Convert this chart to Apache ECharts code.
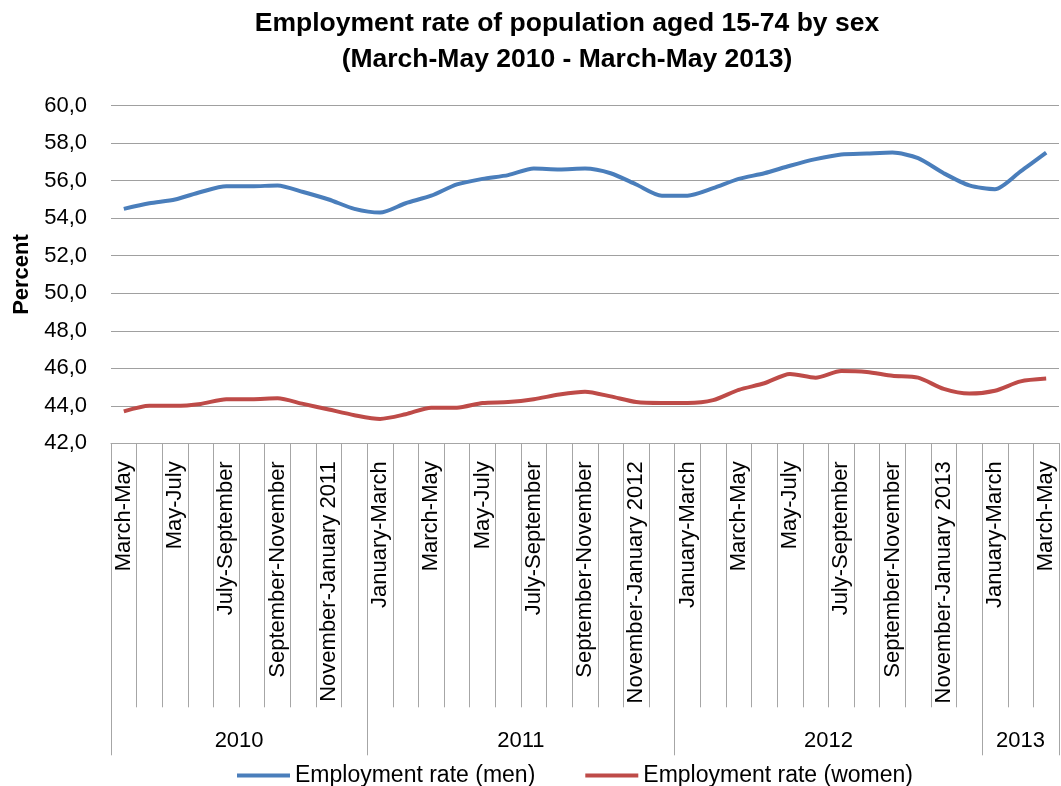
<!DOCTYPE html>
<html>
<head>
<meta charset="utf-8">
<script src="https://cdn.jsdelivr.net/npm/echarts@6/dist/echarts.min.js"></script>
<style>
html,body{margin:0;padding:0;background:#fff;}
#chart{width:1061px;height:786px;}
</style>
</head>
<body>
<div id="chart"></div>
<script>
// Categories: rolling three-month periods, March-May 2010 .. March-May 2013
const categories = [
  'March-May','April-June','May-July','June-August','July-September','August-October',
  'September-November','October-December','November-January 2011','December-February',
  'January-March','February-April','March-May','April-June','May-July','June-August',
  'July-September','August-October','September-November','October-December','November-January 2012','December-February',
  'January-March','February-April','March-May','April-June','May-July','June-August',
  'July-September','August-October','September-November','October-December','November-January 2013','December-February',
  'January-March','February-April','March-May'
];
const years = ['2010', '2011', '2012', '2013'];
const yearSizes = [10, 12, 12, 3];

const men = [54.5, 54.8, 55.0, 55.4, 55.7, 55.7, 55.75, 55.4, 55.0, 54.5,
  54.3, 54.8, 55.2, 55.8, 56.1, 56.3, 56.65, 56.6, 56.65, 56.4,
  55.8, 55.2, 55.2, 55.6, 56.1, 56.4, 56.8, 57.15, 57.4, 57.45,
  57.5, 57.2, 56.4, 55.75, 55.55, 56.5, 57.5];
const women = [43.7, 44.0, 44.0, 44.1, 44.35, 44.35, 44.4, 44.1, 43.8, 43.5,
  43.3, 43.55, 43.9, 43.9, 44.15, 44.2, 44.35, 44.6, 44.75, 44.5,
  44.2, 44.15, 44.15, 44.3, 44.85, 45.2, 45.7, 45.5, 45.85, 45.8,
  45.6, 45.5, 44.9, 44.65, 44.8, 45.3, 45.45];

const seriesNames = ['Employment rate (men)', 'Employment rate (women)'];
const yTicks = { min: 42, max: 60, interval: 2 };

// year boundaries and centres derived from group sizes
const yearBounds = [0];
const yearCentres = [];
yearSizes.forEach(function (s, i) {
  yearCentres.push(yearBounds[i] + s / 2);
  yearBounds.push(yearBounds[i] + s);
});

const FONT = 'Liberation Sans';
const chart = echarts.init(document.getElementById('chart'), null, { renderer: 'canvas' });
chart.setOption({
  animation: false,
  backgroundColor: '#ffffff',
  title: {
    text: 'Employment rate of population aged 15-74 by sex\n(March-May 2010 - March-May 2013)',
    left: 567,
    textAlign: 'center',
    top: 6,
    padding: 0,
    textStyle: { fontFamily: FONT, fontWeight: 'bold', fontSize: 26.5, lineHeight: 36, color: '#000' }
  },
  legend: {
    data: seriesNames,
    left: 232,
    top: 759,
    icon: 'rect',
    itemWidth: 53,
    itemHeight: 4,
    itemGap: 50,
    textStyle: { fontFamily: FONT, fontSize: 23, color: '#000' }
  },
  grid: { left: 111, right: 2, top: 105.7, bottom: 342.7, containLabel: false },
  xAxis: [
    {
      type: 'category',
      data: categories,
      boundaryGap: true,
      position: 'bottom',
      axisLine: { onZero: false, lineStyle: { color: '#a6a6a6', width: 1 } },
      axisTick: { show: true, interval: 0, length: 264, lineStyle: { color: '#a6a6a6' } },
      axisLabel: { interval: 1, rotate: 90, margin: 18, fontFamily: FONT, fontSize: 22, color: '#000' },
      splitLine: { show: false }
    },
    {
      type: 'value',
      min: 0,
      max: yearBounds[yearBounds.length - 1],
      position: 'bottom',
      axisLine: { show: false, onZero: false },
      axisTick: { show: true, customValues: yearBounds, length: 312, lineStyle: { color: '#a6a6a6' } },
      axisLabel: {
        customValues: yearCentres,
        margin: 287,
        fontFamily: FONT, fontSize: 22, color: '#000',
        formatter: function (v) {
          const i = yearCentres.indexOf(v);
          return i >= 0 ? years[i] : '';
        }
      },
      splitLine: { show: false }
    }
  ],
  yAxis: {
    type: 'value',
    min: yTicks.min,
    max: yTicks.max,
    interval: yTicks.interval,
    name: 'Percent',
    nameLocation: 'middle',
    nameGap: 78,
    nameTextStyle: { fontFamily: FONT, fontWeight: 'bold', fontSize: 22, color: '#000' },
    axisLine: { show: false, onZero: false },
    axisTick: { show: false },
    axisLabel: {
      margin: 24, fontFamily: FONT, fontSize: 22, color: '#000',
      formatter: function (v) { return v.toFixed(1).replace('.', ','); }
    },
    splitLine: { show: true, lineStyle: { color: '#a0a0a0', width: 1 } }
  },
  series: [
    {
      name: seriesNames[0], type: 'line', data: men, xAxisIndex: 0,
      smooth: 0.25, symbol: 'none', showSymbol: false,
      lineStyle: { color: '#4a7ebb', width: 4 }, itemStyle: { color: '#4a7ebb' }
    },
    {
      name: seriesNames[1], type: 'line', data: women, xAxisIndex: 0,
      smooth: 0.25, symbol: 'none', showSymbol: false,
      lineStyle: { color: '#be4b48', width: 4 }, itemStyle: { color: '#be4b48' }
    }
  ]
});
</script>
</body>
</html>
